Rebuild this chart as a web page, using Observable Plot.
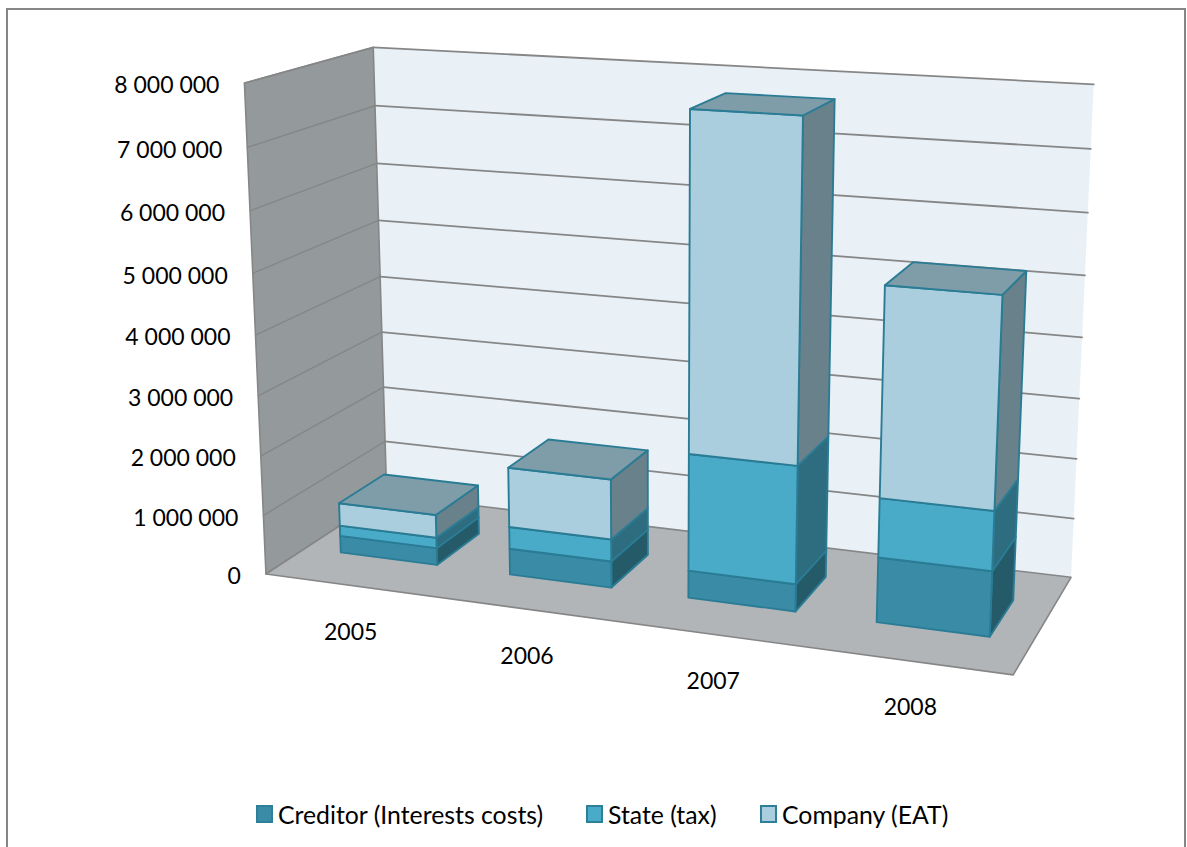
<!DOCTYPE html>
<html>
<head>
<meta charset="utf-8">
<script src="https://cdn.jsdelivr.net/npm/d3@7"></script>
<script src="https://cdn.jsdelivr.net/npm/@observablehq/plot@0.6"></script>
<style>
  html, body { margin: 0; background: #fff; overflow: hidden; }
  #page { position: relative; width: 1187px; height: 847px; overflow: hidden; font-family: Lato, sans-serif; color: #000; }
  #border { position: absolute; left: 6px; top: 8px; width: 1176px; height: 860px; border: 2px solid #868686; pointer-events: none; }
  #legend { position: absolute; top: 795px; left: 0; width: 1187px; height: 40px; font-size: 24.8px; }
  #legend span.item { position: absolute; top: 0; display: flex; align-items: center; height: 38px; white-space: nowrap; }
  #legend i { display: block; width: 13px; height: 14px; margin-right: 5px; border: 2px solid #2E7F98; }
</style>
</head>
<body>
<div id="page">
  <div id="chart"></div>
  <div id="legend"></div>
  <div id="border"></div>
</div>
<script>
// Chart data
const years = ["2005", "2006", "2007", "2008"];
const creditor = [290000, 440000, 450000, 1050000];
const state = [180000, 370000, 1920000, 950000];
const company = [390000, 1000000, 5400000, 3310000];
const seriesNames = ["Creditor (Interests costs)", "State (tax)", "Company (EAT)"];
const valueTicks = [0, 1000000, 2000000, 3000000, 4000000, 5000000, 6000000, 7000000, 8000000];
const valueMax = 8000000;

const width = 1187, height = 795;
const barShare = 0.575;
const depthFront = 0.31, depthBack = 0.69;

const palette = {
  front: ["#3A8CA6", "#4AABC8", "#AACEDD"],
  side: ["#255A69", "#2E6C7F", "#69818A"],
  top: "#7F9DA8",
  edge: "#2A7C95",
  wall: "#949A9B",
  floor: "#B1B5B8",
  back: "#E9F1F7",
  rule: "#868686"
};

// Camera calibration: box position [along, height, depth] -> page position.
const calibration = [
  [0, 0, 0, 266, 574], [1, 0, 0, 1012, 675],
  [0, 1, 0, 244, 82], [0, 0, 1, 386, 494],
  [1, 0, 1, 1071, 576], [0, 1, 1, 373, 47],
  [1, 1, 1, 1093, 84], [0, 0.5, 1, 379, 277],
  [1, 0.5, 1, 1082, 337], [0, 0.5, 0, 255, 334]
];

// Least-squares fit of a projective camera with eleven unknowns.
function fitCamera(rows) {
  const A = [], b = [];
  for (const [u, v, w, X, Y] of rows) {
    A.push([1, u, v, w, 0, 0, 0, 0, -u * X, -v * X, -w * X]); b.push(X);
    A.push([0, 0, 0, 0, 1, u, v, w, -u * Y, -v * Y, -w * Y]); b.push(Y);
  }
  const n = 11;
  const M = d3.range(n).map(i => d3.range(n + 1).map(j =>
    j < n ? d3.sum(A, r => r[i] * r[j]) : d3.sum(A, (r, k) => r[i] * b[k])));
  for (let i = 0; i < n; i++) {
    let p = i;
    for (let r = i + 1; r < n; r++) if (Math.abs(M[r][i]) > Math.abs(M[p][i])) p = r;
    [M[i], M[p]] = [M[p], M[i]];
    for (let r = 0; r < n; r++) {
      if (r === i) continue;
      const f = M[r][i] / M[i][i];
      for (let c = i; c <= n; c++) M[r][c] -= f * M[i][c];
    }
  }
  return d3.range(n).map(i => M[i][n] / M[i][i]);
}
const cam = fitCamera(calibration);

// slot: position along the category axis (0..number of years), value in data units, depth 0..1
function project(slot, value, depth) {
  const u = slot / years.length, v = value / valueMax, w = depth;
  const d = 1 + cam[8] * u + cam[9] * v + cam[10] * w;
  return [(cam[0] + cam[1] * u + cam[2] * v + cam[3] * w) / d,
          (cam[4] + cam[5] * u + cam[6] * v + cam[7] * w) / d];
}

// Polygons, listed in painting order
const faces = [];
function addFace(target, corners, fill, stroke) {
  const id = target.length ? target[target.length - 1].id + 1 : 0;
  for (const c of corners) {
    const [px, py] = project(...c);
    target.push({id, px, py, fill, stroke});
  }
}
const nYears = years.length;
addFace(faces, [[0, 0, 1], [nYears, 0, 1], [nYears, valueMax, 1], [0, valueMax, 1]], palette.back, "none");
addFace(faces, [[0, 0, 0], [0, 0, 1], [0, valueMax, 1], [0, valueMax, 0]], palette.wall, palette.rule);
addFace(faces, [[0, 0, 0], [nYears, 0, 0], [nYears, 0, 1], [0, 0, 1]], palette.floor, palette.rule);

// Grid lines on the two walls
const backRows = valueTicks.filter(t => t > 0).flatMap(t =>
  [[0, t, 1], [nYears, t, 1]].map(c => ({key: "B" + t, pos: project(...c)})));
const sideRows = valueTicks.filter(t => t > 0).flatMap(t =>
  [[0, t, 0], [0, t, 1]].map(c => ({key: "L" + t, pos: project(...c)})));

// Stacked bars, one cuboid per series
const barFaces = [];
years.forEach((year, i) => {
  const a = i + (1 - barShare) / 2, b = a + barShare;
  let base = 0;
  [creditor, state, company].forEach((series, s) => {
    const t = base + series[i];
    addFace(barFaces, [[b, base, depthFront], [b, base, depthBack], [b, t, depthBack], [b, t, depthFront]], palette.side[s], palette.edge);
    addFace(barFaces, [[a, base, depthFront], [b, base, depthFront], [b, t, depthFront], [a, t, depthFront]], palette.front[s], palette.edge);
    base = t;
  });
  addFace(barFaces, [[a, base, depthFront], [b, base, depthFront], [b, base, depthBack], [a, base, depthBack]], palette.top, palette.edge);
});

const spaced = d3.formatLocale({decimal: ",", thousands: " ", grouping: [3], currency: ["", ""]}).format(",d");
const font = {fontFamily: "Lato, sans-serif", fontSize: 23, fill: "#000"};

const polygons = (data, strokeWidth) => Plot.line(data, {
  x: "px", y: "py", z: "id", fill: "fill", stroke: "stroke",
  strokeWidth, curve: "linear-closed", strokeLinejoin: "round"
});
const rules = (data, strokeWidth) => Plot.line(data, {
  x: d => d.pos[0], y: d => d.pos[1], z: "key", stroke: palette.rule, strokeWidth
});

const chart = Plot.plot({
  width, height,
  marginTop: 0, marginRight: 0, marginBottom: 0, marginLeft: 0,
  x: {type: "linear", domain: [0, width], range: [0, width], axis: null},
  y: {type: "linear", domain: [0, height], range: [0, height], axis: null},
  color: {type: "identity"},
  style: {background: "transparent", overflow: "visible"},
  marks: [
    polygons(faces, 1.6),
    rules(sideRows, 1.4),
    rules(backRows, 1.8),
    polygons(barFaces, 1.9),
    Plot.text(valueTicks, {
      x: t => project(0, t, 0)[0], y: t => project(0, t, 0)[1],
      text: t => spaced(t), textAnchor: "end", dx: -25, dy: 3, ...font
    }),
    Plot.text(years, {
      x: (d, i) => project(i + 0.5, 0, 0)[0], y: (d, i) => project(i + 0.5, 0, 0)[1],
      text: d => d, dy: 47, ...font
    })
  ]
});
document.getElementById("chart").append(chart);

// Legend below the plot
const legendLefts = [256, 586, 760];
const legend = d3.select("#legend");
seriesNames.forEach((name, i) => {
  const item = legend.append("span").attr("class", "item").style("left", legendLefts[i] + "px");
  item.append("i").style("background", palette.front[i]);
  item.append("span").text(name);
});
</script>
</body>
</html>
